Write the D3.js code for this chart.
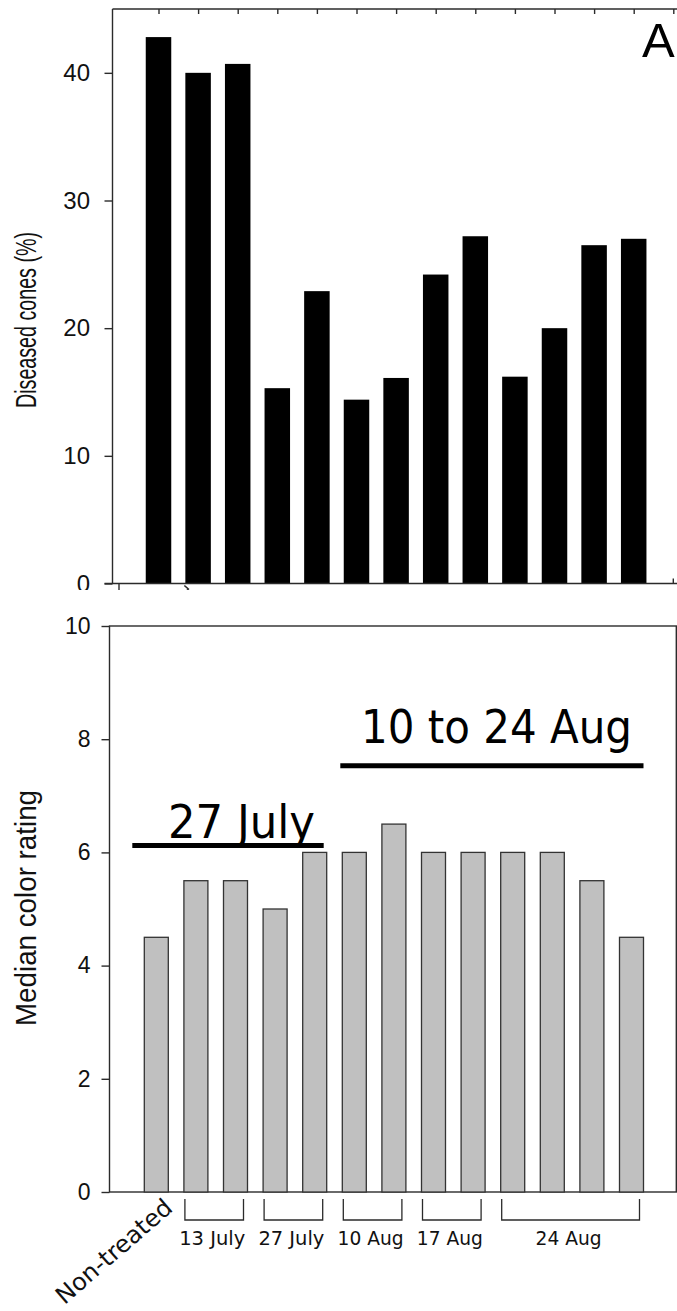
<!DOCTYPE html>
<html>
<head>
<meta charset="utf-8">
<script src="https://cdn.jsdelivr.net/npm/d3@7"></script>
<style>
body { margin: 0; background: #fff; }
</style>
</head>
<body>
<div id="chart"></div>
<script>
// Treatments (one bar each), in plot order
var categories = ["Non-treated", "13 July a", "13 July b", "27 July a", "27 July b",
  "10 Aug a", "10 Aug b", "17 Aug a", "17 Aug b", "24 Aug a", "24 Aug b", "24 Aug c", "24 Aug d"];
// Panel A: diseased cones (%)
var diseased = [42.8, 40.0, 40.7, 15.3, 22.9, 14.4, 16.1, 24.2, 27.2, 16.2, 20.0, 26.5, 27.0];
// Panel B: median color rating
var colorRating = [4.5, 5.5, 5.5, 5.0, 6.0, 6.0, 6.5, 6.0, 6.0, 6.0, 6.0, 5.5, 4.5];

var ticksA = [0, 10, 20, 30, 40];
var ticksB = [0, 2, 4, 6, 8, 10];

// date brackets under panel B (index of first / last bar)
var groupLabels = ["13 July", "27 July", "10 Aug", "17 Aug", "24 Aug"];
var groupFrom = [1, 3, 5, 7, 9];
var groupTo = [2, 4, 6, 8, 12];

// period lines drawn inside panel B
var periodLabels = ["27 July", "10 to 24 Aug"];
var periodFrom = [0, 5];
var periodTo = [4, 12];
var periodLevel = [6.12, 7.53];

var W = 677, H = 1311;
var ink = "#2b2b2b";

var svg = d3.select("#chart")
  .append("svg")
  .attr("width", W)
  .attr("height", H);

svg.append("defs").append("clipPath")
  .attr("id", "clipA")
  .append("rect")
  .attr("x", 0).attr("y", 0)
  .attr("width", W).attr("height", 590);

// ---------------- Panel A ----------------
var gA = svg.append("g").attr("clip-path", "url(#clipA)");

var frameA = {left: 112.5, top: 9, bottom: 583.5};

var yA = d3.scaleLinear().domain([0, 45]).range([frameA.bottom, frameA.top]);
var xA = d3.scaleBand()
  .domain(categories)
  .range([138.7, 653.5])
  .paddingInner(0.356)
  .paddingOuter(0.178);
// slot index -> bar centre (used for the top tick marks)
var slotA = d3.scaleLinear().domain([0, 13]).range([158.5, 673.3]);

gA.append("g")
  .selectAll("rect")
  .data(diseased)
  .enter()
  .append("rect")
  .attr("x", function(d, i) { return xA(categories[i]); })
  .attr("y", function(d) { return yA(d); })
  .attr("width", xA.bandwidth())
  .attr("height", function(d) { return yA(0) - yA(d); })
  .attr("fill", "#000");

// frame
gA.append("line")
  .attr("x1", frameA.left).attr("x2", frameA.left)
  .attr("y1", frameA.top).attr("y2", frameA.bottom)
  .attr("stroke", ink).attr("stroke-width", 1.4);
gA.append("line")
  .attr("x1", frameA.left).attr("x2", W)
  .attr("y1", frameA.top).attr("y2", frameA.top)
  .attr("stroke", ink).attr("stroke-width", 1.4);
gA.append("line")
  .attr("x1", frameA.left - 8).attr("x2", W)
  .attr("y1", frameA.bottom).attr("y2", frameA.bottom)
  .attr("stroke", ink).attr("stroke-width", 1.4);

// top ticks, pointing inwards
var topAxis = gA.append("g")
  .attr("transform", "translate(0," + frameA.top + ")")
  .call(d3.axisTop(slotA).tickValues(d3.range(14)).tickSize(-5).tickFormat(""));
topAxis.select(".domain").remove();
topAxis.selectAll("line").attr("stroke", ink).attr("stroke-width", 1.4);

// small stray ticks on the bottom edge
gA.append("line")
  .attr("x1", frameA.left + 6.5).attr("x2", frameA.left + 6.5)
  .attr("y1", frameA.bottom).attr("y2", frameA.bottom + 9)
  .attr("stroke", ink).attr("stroke-width", 1.4);
gA.append("line")
  .attr("x1", slotA(13)).attr("x2", slotA(13))
  .attr("y1", frameA.bottom - 5).attr("y2", frameA.bottom)
  .attr("stroke", ink).attr("stroke-width", 1.4);
gA.append("path")
  .attr("d", "M" + (xA(categories[1]) - 1) + "," + (frameA.bottom + 2) +
    " l4,3.5 l-3.5,4")
  .attr("fill", "none").attr("stroke", ink).attr("stroke-width", 1.6);

var leftA = gA.append("g")
  .attr("transform", "translate(" + frameA.left + ",0)")
  .call(d3.axisLeft(yA).tickValues(ticksA).tickSize(8).tickPadding(14.5).tickSizeOuter(0));
leftA.select(".domain").remove();
leftA.selectAll("line").attr("stroke", ink).attr("stroke-width", 1.4);
leftA.selectAll("text")
  .attr("fill", "#111")
  .style("font-family", "'Liberation Sans', Arial, sans-serif")
  .style("font-size", "24px");

gA.append("text")
  .attr("transform", "translate(36,320) rotate(-90)")
  .attr("text-anchor", "middle")
  .attr("textLength", 176)
  .attr("lengthAdjust", "spacingAndGlyphs")
  .style("font-family", "'Liberation Sans', Arial, sans-serif")
  .style("font-size", "29px")
  .attr("fill", "#111")
  .text("Diseased cones (%)");

gA.append("text")
  .attr("x", 642)
  .attr("y", 57)
  .style("font-family", "'Liberation Sans', Arial, sans-serif")
  .style("font-size", "49px")
  .attr("fill", "#000")
  .text("A");

// ---------------- Panel B ----------------
var gB = svg.append("g");
var frameB = {left: 109.5, right: 676.3, top: 626, bottom: 1192};

var yB = d3.scaleLinear().domain([0, 10]).range([frameB.bottom, frameB.top]);
var xB = d3.scaleBand()
  .domain(categories)
  .range([136.5, 651.3])
  .paddingInner(0.394)
  .paddingOuter(0.197);

gB.append("rect")
  .attr("x", frameB.left).attr("y", frameB.top)
  .attr("width", frameB.right - frameB.left)
  .attr("height", frameB.bottom - frameB.top)
  .attr("fill", "none").attr("stroke", ink).attr("stroke-width", 1.4);

gB.append("g")
  .selectAll("rect")
  .data(colorRating)
  .enter()
  .append("rect")
  .attr("x", function(d, i) { return xB(categories[i]); })
  .attr("y", function(d) { return yB(d); })
  .attr("width", xB.bandwidth())
  .attr("height", function(d) { return yB(0) - yB(d); })
  .attr("fill", "#c0c0c0")
  .attr("stroke", "#333")
  .attr("stroke-width", 1.3);

var leftB = gB.append("g")
  .attr("transform", "translate(" + frameB.left + ",0)")
  .call(d3.axisLeft(yB).tickValues(ticksB).tickSize(8).tickPadding(11).tickSizeOuter(0));
leftB.select(".domain").remove();
leftB.selectAll("line").attr("stroke", ink).attr("stroke-width", 1.4);
leftB.selectAll("text")
  .attr("fill", "#111")
  .style("font-family", "'Liberation Sans', Arial, sans-serif")
  .style("font-size", "23px");

gB.append("text")
  .attr("transform", "translate(36,908) rotate(-90)")
  .attr("text-anchor", "middle")
  .attr("textLength", 236)
  .attr("lengthAdjust", "spacingAndGlyphs")
  .style("font-family", "'Liberation Sans', Arial, sans-serif")
  .style("font-size", "30px")
  .attr("fill", "#111")
  .text("Median color rating");

// period lines + labels
var bw = xB.bandwidth();
var periodX1 = [xB(categories[periodFrom[0]]) - 12, xB(categories[periodFrom[1]]) - 2];
var periodX2 = [xB(categories[periodTo[0]]) + bw - 3, xB(categories[periodTo[1]]) + bw];
var periodTextX = [168, 361];
var periodTextLen = [147, 271];
var periodTextGap = [8, 23];

periodLabels.forEach(function(lab, i) {
  gB.append("line")
    .attr("x1", periodX1[i]).attr("x2", periodX2[i])
    .attr("y1", yB(periodLevel[i])).attr("y2", yB(periodLevel[i]))
    .attr("stroke", "#000").attr("stroke-width", 5);
  gB.append("text")
    .attr("x", periodTextX[i])
    .attr("y", yB(periodLevel[i]) - periodTextGap[i])
    .attr("textLength", periodTextLen[i])
    .attr("lengthAdjust", "spacingAndGlyphs")
    .style("font-family", "'DejaVu Sans Condensed', 'DejaVu Sans', sans-serif")
    .style("font-size", "46px")
    .attr("fill", "#000")
    .text(lab);
});

// date brackets under the axis
var brTop = frameB.bottom + 7, brBot = frameB.bottom + 28;
groupLabels.forEach(function(lab, i) {
  var x1 = xB(categories[groupFrom[i]]) + 1;
  var x2 = xB(categories[groupTo[i]]) + bw - 4;
  gB.append("path")
    .attr("d", "M" + x1 + "," + brTop + "V" + brBot + "H" + x2 + "V" + brTop)
    .attr("fill", "none").attr("stroke", ink).attr("stroke-width", 1.3);
  gB.append("text")
    .attr("x", (x1 + x2) / 2 - 2)
    .attr("y", 1245)
    .attr("text-anchor", "middle")
    .attr("textLength", 66)
    .attr("lengthAdjust", "spacingAndGlyphs")
    .style("font-family", "'DejaVu Sans Condensed', 'DejaVu Sans', sans-serif")
    .style("font-size", "20px")
    .attr("fill", "#111")
    .text(lab);
});

// rotated first category label
gB.append("text")
  .attr("transform", "translate(174,1210) rotate(-41)")
  .attr("text-anchor", "end")
  .attr("textLength", 145)
  .attr("lengthAdjust", "spacingAndGlyphs")
  .style("font-family", "'DejaVu Sans Condensed', 'DejaVu Sans', sans-serif")
  .style("font-size", "24px")
  .attr("fill", "#111")
  .text(categories[0]);
</script>
</body>
</html>
